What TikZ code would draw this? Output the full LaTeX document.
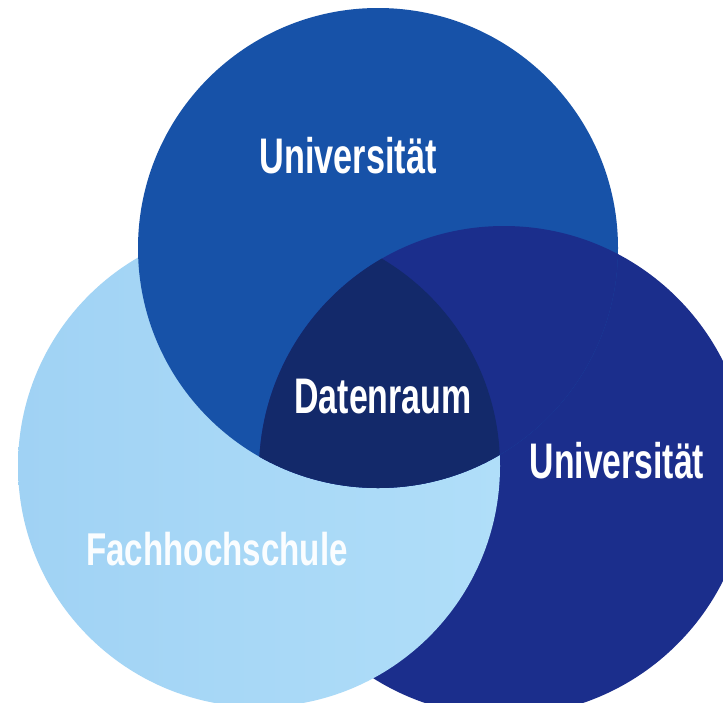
\documentclass[tikz,border=0pt]{standalone}
\usepackage{fontspec}
\setmainfont{Liberation Sans}
\definecolor{topblue}{HTML}{1752A8}
\definecolor{rightnavy}{HTML}{1B2E8C}
\definecolor{lightL}{HTML}{A0D2F4}
\definecolor{lightR}{HTML}{B0DEF9}
\definecolor{coreblue}{HTML}{13296A}
\begin{document}
\begin{tikzpicture}[x=1pt,y=-1pt,
  lbl/.style={text=white,font=\bfseries\fontsize{50}{60}\selectfont,anchor=base,inner sep=0pt}]
\clip (0,0) rectangle (723,702);
\fill[white] (0,0) rectangle (723,702);
\coordinate (cT) at (378,248);
\coordinate (cR) at (504,471);
\coordinate (cL) at (259,466);
% right circle (bottom layer)
\fill[rightnavy] (cR) circle[radius=245];
% light circle
\shade[left color=lightL, right color=lightR] (cL) circle[radius=241];
% top circle
\fill[topblue] (cT) circle[radius=240];
% intersections
\begin{scope}
  \clip (cT) circle[radius=240];
  \fill[rightnavy] (cR) circle[radius=245];
  \clip (cR) circle[radius=245];
  \fill[coreblue] (cL) circle[radius=241];
\end{scope}
% labels
\node[lbl] (uniTop) at (348,173) {\scalebox{0.685}[1]{Universität}};
\node[lbl] (daten) at (383,413) {\scalebox{0.678}[1]{Datenraum}};
\node[lbl] (uniRight) at (617,478) {\scalebox{0.675}[1]{Universität}};
\node[lbl,font=\bfseries\fontsize{46}{55}\selectfont,text=white!94!lightR] (fh) at (217,565) {\scalebox{0.72}[1]{Fachhochschule}};
\end{tikzpicture}
\end{document}
